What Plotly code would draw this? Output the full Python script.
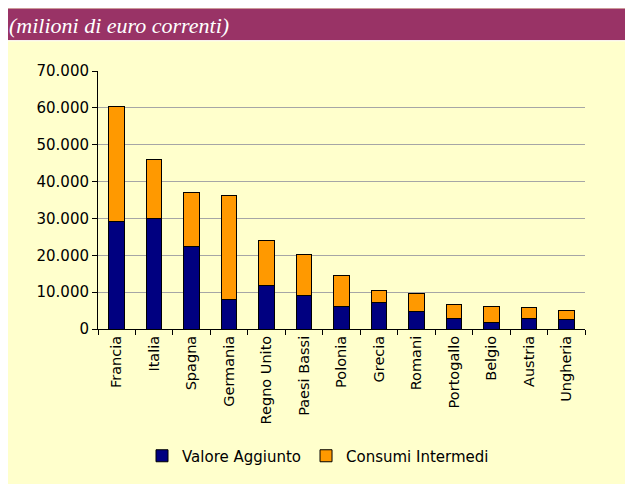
import plotly.graph_objects as go

# dati (milioni di euro correnti)
paesi = ["Francia", "Italia", "Spagna", "Germania", "Regno Unito", "Paesi Bassi",
         "Polonia", "Grecia", "Romani", "Portogallo", "Belgio", "Austria", "Ungheria"]
valore_aggiunto = [29100, 30100, 22300, 8000, 11900, 9100,
                   6150, 7250, 4700, 2900, 1750, 2800, 2550]
consumi_intermedi = [31150, 15900, 14700, 28350, 12150, 11100,
                     8300, 3150, 5000, 3650, 4300, 2950, 2500]

# la pagina ha un margine di 8px attorno al grafico: coordinate in px della figura
W, H = 625, 476
L, R, T, B = 90, 48, 63, 153
PW, PH = W - L - R, H - T - B


def px_x(px):
    return (px - L) / PW


def px_y(py):
    return (H - B - py) / PH


FONT = "Verdana, DejaVu Sans, sans-serif"

fig = go.Figure()
fig.add_trace(go.Bar(
    x=paesi, y=valore_aggiunto, name="Valore Aggiunto",
    marker=dict(color="#000080", line=dict(color="#000000", width=1)),
))
fig.add_trace(go.Bar(
    x=paesi, y=consumi_intermedi, name="Consumi Intermedi",
    marker=dict(color="#FF9900", line=dict(color="#000000", width=1)),
))

fig.update_layout(
    width=W, height=H,
    margin=dict(l=L, r=R, t=T, b=B),
    barmode="stack", bargap=0.585,
    separators=",.",
    paper_bgcolor="#FFFFCC",
    plot_bgcolor="rgba(0,0,0,0)",
    font=dict(family=FONT, size=14, color="#000000"),
    showlegend=True,
    legend=dict(orientation="h", x=px_x(310), xanchor="center",
                y=px_y(451), yanchor="middle", bgcolor="rgba(0,0,0,0)",
                font=dict(family=FONT, size=15), traceorder="normal"),
    shapes=[
        dict(type="rect", xref="paper", yref="paper", layer="below",
             x0=px_x(0), x1=px_x(W), y0=px_y(32), y1=px_y(0),
             fillcolor="#993366", line=dict(width=0)),
        dict(type="rect", xref="paper", yref="paper", layer="below",
             x0=px_x(0), x1=px_x(W), y0=px_y(33), y1=px_y(32),
             fillcolor="#FFFFFF", line=dict(width=0)),
    ],
    annotations=[
        dict(text="<i>(milioni di euro correnti)</i>", xref="paper", yref="paper",
             x=px_x(-1), xanchor="left", y=px_y(17), yanchor="middle",
             showarrow=False,
             font=dict(family="Liberation Serif, serif", size=22, color="#FFFFFF")),
    ],
)

fig.update_xaxes(
    type="category", tickangle=-90, showgrid=False,
    showline=True, linecolor="#000000", linewidth=1,
    ticks="outside", tickson="boundaries", ticklen=5, tickcolor="#000000",
    tickfont=dict(family=FONT, size=14.5),
)
fig.update_yaxes(
    range=[0, 70000], dtick=10000, tickformat=",d",
    showgrid=True, gridcolor="#A6A6A6", gridwidth=1, zeroline=False,
    showline=True, linecolor="#000000", linewidth=1,
    ticks="outside", ticklen=5, tickcolor="#000000",
    tickfont=dict(family=FONT, size=15),
)

fig.write_html("out.html")
